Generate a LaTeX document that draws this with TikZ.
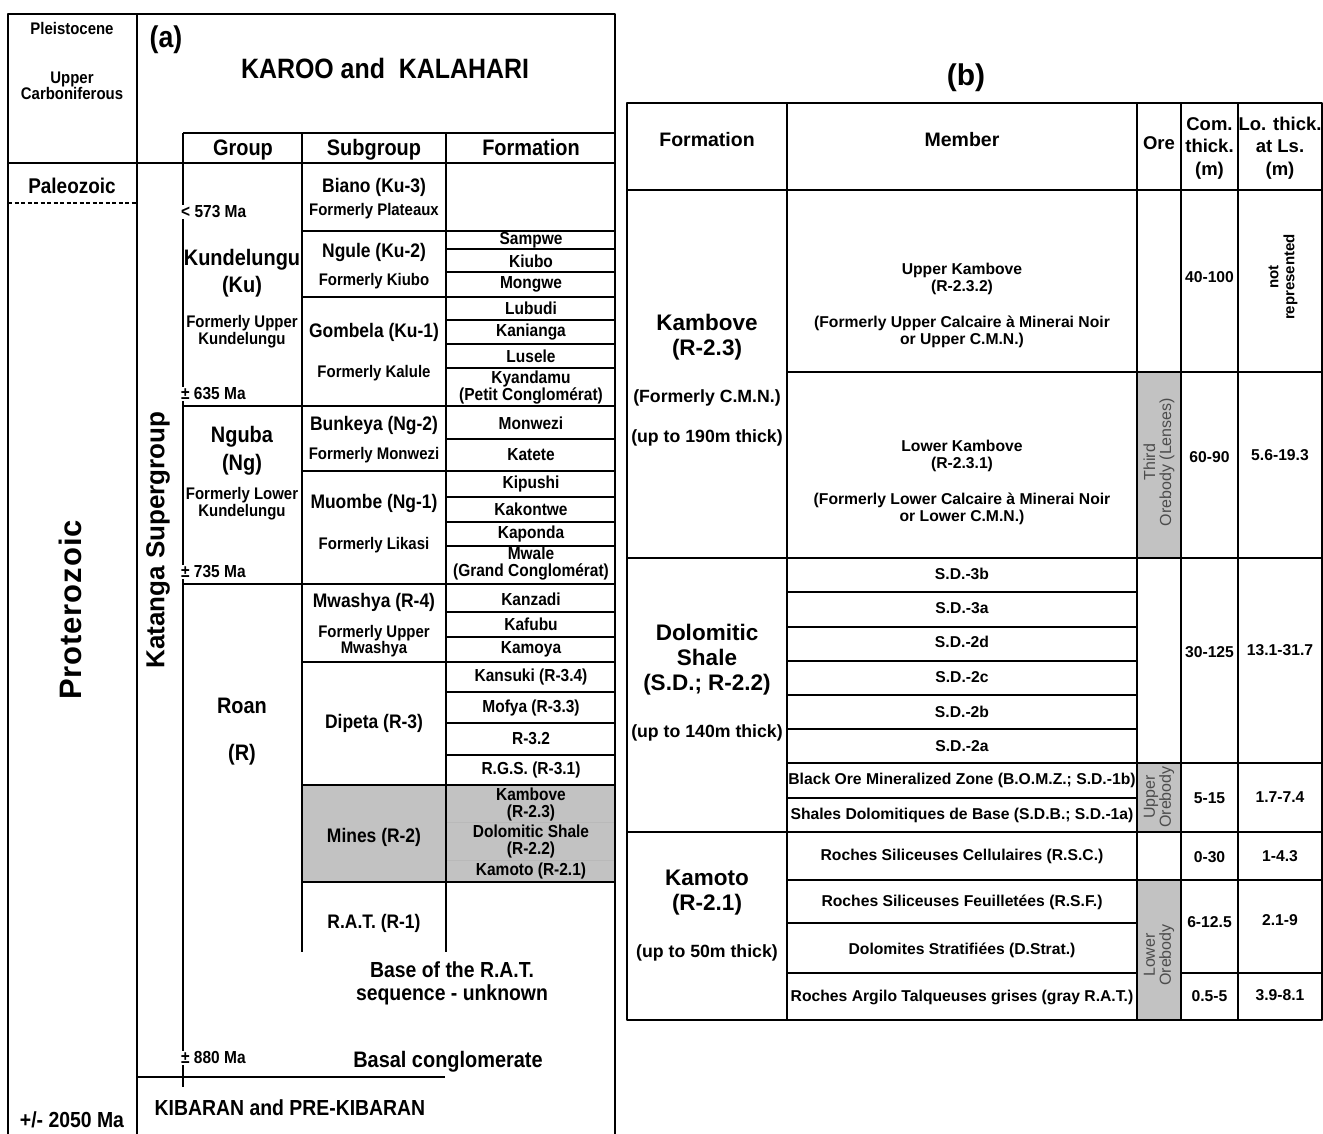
\documentclass[tikz,border=0pt]{standalone}
\usepackage{fontspec}
\setmainfont{Liberation Sans}
\newfontfamily\na{Liberation Sans}[FakeStretch=0.89]
\newcommand\fz[2]{\fontsize{#1}{#2}\selectfont}
\definecolor{oregray}{RGB}{194,194,194}
\begin{document}
\begin{tikzpicture}[x=1pt,y=-1pt,line join=round,font=\bfseries,
	frm/.style={line width=2.6pt},
	rl/.style={line width=1.7pt},
	lbl/.style={inner sep=0pt,align=center},
	fm/.style={lbl,font=\na\bfseries\fz{17.4}{17}},
	sg/.style={lbl,font=\na\bfseries\fz{19.6}{20}},
	gp/.style={lbl,font=\na\bfseries\fz{22.4}{24}},
	ma/.style={inner sep=1pt,anchor=west,fill=white,font=\na\bfseries\fz{17.4}{17}},
	mb/.style={lbl,font=\bfseries\fz{15.7}{17.5}},
	ore/.style={lbl,rotate=90,text=black!70,font=\mdseries\fz{16}{16}}]
\useasboundingbox (0,0) rectangle (1323,1134);
% ---------- (a) ----------
\fill[oregray] (302,785) rectangle (615,882);
\draw[gray!55,line width=1pt] (446,822)--(615,822) (446,860)--(615,860);
\draw[frm]
	(8,1134)--(8,14)--(615,14)--(615,1134)
	(137,14)--(137,1134)
	(8,163)--(615,163);
\draw[rl]
	(183,133)--(615,133)
	(183,133)--(183,1087)
	(302,133)--(302,952)
	(446,133)--(446,952)
	(302,231)--(615,231) (302,297)--(615,297) (183,406)--(615,406)
	(302,471)--(615,471) (183,584)--(615,584) (302,662)--(615,662)
	(302,785)--(615,785) (302,882)--(615,882)
	(137,1077)--(445,1077);
\foreach \y in {249,272,320,344,368,439,497,522,546,612,637,692,723,755}\draw[rl](446,\y)--(615,\y);
\draw[line width=2pt,dash pattern=on 4pt off 2.5pt] (8,203)--(137,203);
\path(72,28)node[lbl,font=\na\bfseries\fz{16.8}{16}](ple){Pleistocene};
\path(72,86)node[lbl,font=\na\bfseries\fz{16.8}{16.5}](car){Upper\\Carboniferous};
\path(72,186)node[lbl,font=\na\bfseries\fz{21.3}{22}](pal){Paleozoic};
\path(70,610)node[lbl,rotate=90,font=\bfseries\fz{31}{32}\addfontfeature{LetterSpace=3}](pro){Proterozoic};
\path(72,1120)node[lbl,font=\na\bfseries\fz{21.8}{22}](ga){+/- 2050 Ma};
\path(158,540)node[lbl,rotate=90,font=\bfseries\fz{26}{28}](kat){Katanga Supergroup};
\path(166,40)node[lbl,font=\na\bfseries\fz{30}{30}](pa){(a)};
\path(385,68)node[lbl,font=\na\bfseries\fz{28}{28}](kar){KAROO and \ KALAHARI};
\foreach \x/\g in {243/Group,374/Subgroup,531/Formation}\path(\x,156)node[gp,anchor=base](h\x){\g};
\foreach \y/\g [count=\i] in {260/Kundelungu,287/(Ku),437/Nguba,465/(Ng),706/Roan,755/(R)}\path(242,\y)node[gp](gr\i){\g};
\foreach \y/\g [count=\i] in {332/{Formerly Upper\\Kundelungu},504/{Formerly Lower\\Kundelungu}}\path(242,\y)node[lbl,font=\na\bfseries\fz{16.8}{15.5}](fg\i){\g};
\foreach \y/\g [count=\i] in {187/Biano (Ku-3),252/Ngule (Ku-2),332/Gombela (Ku-1),425/Bunkeya (Ng-2),503/Muombe (Ng-1),602/Mwashya (R-4),723/Dipeta (R-3),837/Mines (R-2),923/R.A.T. (R-1)}\path(374,\y)node[sg](sg\i){\g};
\foreach \y/\g [count=\i] in {211/Formerly Plateaux,281/Formerly Kiubo,373/Formerly Kalule,455/Formerly Monwezi,545/Formerly Likasi,641/{Formerly Upper\\Mwashya}}\path(374,\y)node[lbl,font=\na\bfseries\fz{16.8}{16}](fs\i){\g};
\foreach \y/\g [count=\i] in {240/Sampwe,261/Kiubo,284/Mongwe,308/Lubudi,332/Kanianga,356/Lusele,388/{Kyandamu\\(Petit Conglomérat)},
	423/Monwezi,455/Katete,484/Kipushi,509/Kakontwe,534/Kaponda,564/{Mwale\\(Grand Conglomérat)},
	599/Kanzadi,624/Kafubu,649/Kamoya,677/Kansuki (R-3.4),708/Mofya (R-3.3),739/R-3.2,770/R.G.S. (R-3.1),
	804/{Kambove\\(R-2.3)},841/{Dolomitic Shale\\(R-2.2)},871/Kamoto (R-2.1)}\path(531,\y)node[fm](fa\i){\g};
\foreach \y/\g [count=\i] in {212/< 573 Ma,394/± 635 Ma,572/± 735 Ma,1058/± 880 Ma}\path(180,\y)node[ma](age\i){\g};
\path(452,983)node[lbl,font=\na\bfseries\fz{21.8}{23}](base){Base of the R.A.T.\\sequence - unknown};
\path(448,1062)node[lbl,font=\na\bfseries\fz{22.4}{22}](bas){Basal conglomerate};
\path(290,1108)node[lbl,font=\na\bfseries\fz{21.8}{22}](kib){KIBARAN and PRE-KIBARAN};
% ---------- (b) ----------
\fill[oregray] (1137,372) rectangle (1181,558) (1137,763) rectangle (1181,832) (1137,880) rectangle (1181,1020);
\draw[frm]
	(627,103) rectangle (1322,1020)
	(627,190)--(1322,190)
	(627,558)--(1322,558)
	(627,832)--(1322,832);
\draw[rl]
	(787,103)--(787,1020) (1137,103)--(1137,1020) (1181,103)--(1181,1020) (1238,103)--(1238,1020)
	(787,372)--(1322,372) (787,763)--(1322,763) (787,880)--(1322,880)
	(787,973)--(1137,973) (1181,973)--(1322,973);
\foreach \y in {592,627,661,695,729,798,923}\draw[rl](787,\y)--(1137,\y);
\path(966,78)node[lbl,font=\bfseries\fz{30}{32}](pb){(b)};
\foreach \x/\g in {707/Formation,962/Member}\path(\x,140)node[lbl,font=\bfseries\fz{19.5}{21}](hb\x){\g};
\path(1159,143)node[lbl,font=\bfseries\fz{18.5}{20}](hore){Ore};
\path(1209.5,148)node[lbl,font=\bfseries\fz{18.5}{22.5}](hcom){Com.\\thick.\\(m)};
\path(1280,148)node[lbl,font=\bfseries\fz{18.5}{22.5}](hlo){Lo. thick.\\at Ls.\\(m)};
\foreach \y/\g [count=\i] in {337/{Kambove\\(R-2.3)},660/{Dolomitic\\Shale\\(S.D.; R-2.2)},893/{Kamoto\\(R-2.1)}}\path(707,\y)node[lbl,font=\bfseries\fz{22.5}{25}](fb\i){\g};
\foreach \y/\g [count=\i] in {398/(Formerly C.M.N.),438/(up to 190m thick),733/(up to 140m thick),953/(up to 50m thick)}\path(707,\y)node[lbl,font=\bfseries\fz{17.7}{19}](nb\i){\g};
\foreach \y/\g [count=\i] in {279/{Upper Kambove\\(R-2.3.2)},332/{(Formerly Upper Calcaire à Minerai Noir\\or Upper C.M.N.)},456/{Lower Kambove\\(R-2.3.1)},509/{(Formerly Lower Calcaire à Minerai Noir\\or Lower C.M.N.)},
	574/S.D.-3b,608/S.D.-3a,642/S.D.-2d,677/S.D.-2c,712/S.D.-2b,746/S.D.-2a,
	780/Black Ore Mineralized Zone (B.O.M.Z.; S.D.-1b),815/Shales Dolomitiques de Base (S.D.B.; S.D.-1a),
	856/Roches Siliceuses Cellulaires (R.S.C.),902/Roches Siliceuses Feuilletées (R.S.F.),950/Dolomites Stratifiées (D.Strat.),997/Roches Argilo Talqueuses grises (gray R.A.T.)}\path(962,\y)node[mb](mb\i){\g};
\foreach \y/\g [count=\i] in {277/40-100,457/60-90,652/30-125,798/5-15,857/0-30,922/6-12.5,996/0.5-5}\path(1209.5,\y)node[mb](ct\i){\g};
\foreach \y/\g [count=\i] in {455/5.6-19.3,650/13.1-31.7,797/1.7-7.4,856/1-4.3,920/2.1-9,995/3.9-8.1}\path(1280,\y)node[mb](lt\i){\g};
\path(1283,277)node[lbl,rotate=90,font=\bfseries\fz{15}{16}](nr){not\\represented};
\foreach \y/\g [count=\i] in {462/{Third\\Orebody (Lenses)},797/{Upper\\Orebody},955/{Lower\\Orebody}}\path(1159,\y)node[ore](ob\i){\g};
\end{tikzpicture}
\end{document}
